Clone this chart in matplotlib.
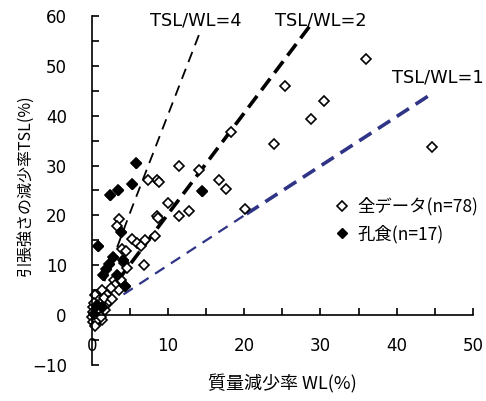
import matplotlib
matplotlib.use("Agg")
import matplotlib.pyplot as plt
import numpy as np

plt.rcParams['font.family'] = ['DejaVu Sans', 'Noto Sans CJK JP']
jp = ['Noto Sans CJK JP', 'DejaVu Sans']

# pitting specimens (filled diamonds)
pit_wl = [5.85, 5.3, 3.4, 2.4, 14.5, 3.8, 0.85, 2.8, 2.3, 1.9, 1.4, 3.3, 4.3, 4.1, 0.7, 1.3, 0.3]
pit_tsl = [30.5, 26.2, 25.0, 24.0, 24.9, 16.7, 13.9, 11.7, 10.3, 9.3, 8.1, 8.0, 5.8, 11.0, 2.0, 1.7, 0.2]

# remaining specimens (open diamonds; all data = these + pitting)
rest_wl = [36.0, 25.3, 30.4, 28.8, 44.6, 23.9, 18.2, 11.5, 14.0, 16.7, 17.6, 8.5, 8.8, 7.4,
           10.0, 8.5, 8.7, 11.5, 12.8, 20.1, 8.3,
           3.6, 3.3, 5.3, 5.9, 6.4, 7.0, 4.0, 4.5, 4.2, 4.6, 6.9, 2.9, 3.8, 3.1, 3.5, 1.3, 2.0, 0.4, 0.9,
           0.1, 0.2, 0.05, 0.2, 0.5, 1.3, 0.7, 0.4, 0.6, 1.0, 1.5, 1.8, 2.2, 1.6, 2.5, 0.3, 0.8, 1.2,
           1.7, 2.6, 1.1]
rest_tsl = [51.4, 46.0, 43.0, 39.3, 33.7, 34.3, 36.7, 29.9, 29.2, 27.1, 25.2, 27.1, 26.7, 27.2,
            22.4, 19.9, 19.5, 19.9, 20.8, 21.3, 15.8,
            19.2, 17.9, 15.3, 14.5, 13.8, 15.0, 13.3, 12.8, 10.4, 9.4, 10.0, 7.0, 7.0, 6.0, 5.0, 5.0, 4.0, 4.0, 3.0,
            1.7, 0.7, -0.3, -1.3, -1.7, -1.0, -1.0, -2.2, 0.5, 0.2, 0.8, 2.0, 2.8, 3.5, 5.5, 2.5, 1.2, -0.3,
            1.0, 3.3, 2.3]

all_wl = np.concatenate([rest_wl, pit_wl])
all_tsl = np.concatenate([rest_tsl, pit_tsl])

# reference lines TSL/WL = 4, 2, 1
r4_wl = [0, 5.0, 14.2]
r4_tsl = [0, 20.5, 56.8]
r2_wl = [0, 28.6]
r2_tsl = [0, 58.0]
r1a_wl = [0, 20.3]
r1a_tsl = [0, 20.3]
r1b_wl = [20.3, 44.8]
r1b_tsl = [20.3, 44.6]

navy = '#2f3486'

fig = plt.figure(figsize=(4.86, 4.01), dpi=100)
ax = fig.add_axes([0.189, 0.09, 0.784, 0.87])

ax.plot(r4_wl, r4_tsl, color='black', lw=1.3, dashes=(6, 4))
ax.plot(r2_wl, r2_tsl, color='black', lw=2.6, dashes=(4, 2))
ax.plot(r1a_wl, r1a_tsl, color=navy, lw=1.6, dashes=(5, 3.5))
ax.plot(r1b_wl, r1b_tsl, color=navy, lw=2.6, dashes=(4, 2.2))

ax.plot(all_wl, all_tsl, 'D', ms=5, mfc='white', mec='black', mew=1.2,
        ls='none', clip_on=False, label='全データ(n=78)')
ax.plot(pit_wl, pit_tsl, 'D', ms=5.5, mfc='black', mec='black', mew=1,
        ls='none', clip_on=False, label='孔食(n=17)')

ax.text(7.6, 59.2, 'TSL/WL=4', fontsize=12.8, va='center')
ax.text(24.0, 59.2, 'TSL/WL=2', fontsize=12.8, va='center')
ax.text(39.4, 47.6, 'TSL/WL=1', fontsize=12.8, va='center', clip_on=False)

ax.set_xlim(0, 50)
ax.set_ylim(-10, 60)
ax.spines['left'].set_position(('data', 0))
ax.spines['bottom'].set_position(('data', 0))
ax.spines['top'].set_visible(False)
ax.spines['right'].set_visible(False)
for s in ['left', 'bottom']:
    ax.spines[s].set_linewidth(1.2)

ax.set_xticks(np.arange(0, 51, 10))
ax.set_xticks(np.arange(0, 51, 5), minor=True)
ax.set_yticks(np.arange(-10, 61, 10))
ax.set_yticks(np.arange(-10, 61, 5), minor=True)
ax.tick_params(axis='both', which='both', direction='in', length=5, width=1.2, labelsize=12)
ax.tick_params(axis='x', which='major', pad=15.5)
ax.tick_params(axis='y', which='major', pad=18)

ax.set_xlabel('質量減少率 WL(%)', fontsize=13, family=jp)
ax.xaxis.set_label_coords(0.5, -0.027)
ax.set_ylabel('引張強さの減少率TSL(%)', fontsize=11.5, family=jp)
ax.yaxis.set_label_coords(-0.15, 0.515)

ax.legend(loc='upper left', bbox_to_anchor=(0.607, 0.505), frameon=False,
          prop={'family': jp, 'size': 12.5},
          handletextpad=0.3, labelspacing=0.5, handlelength=1.2, borderpad=0)

fig.savefig('out.png', dpi=100)
